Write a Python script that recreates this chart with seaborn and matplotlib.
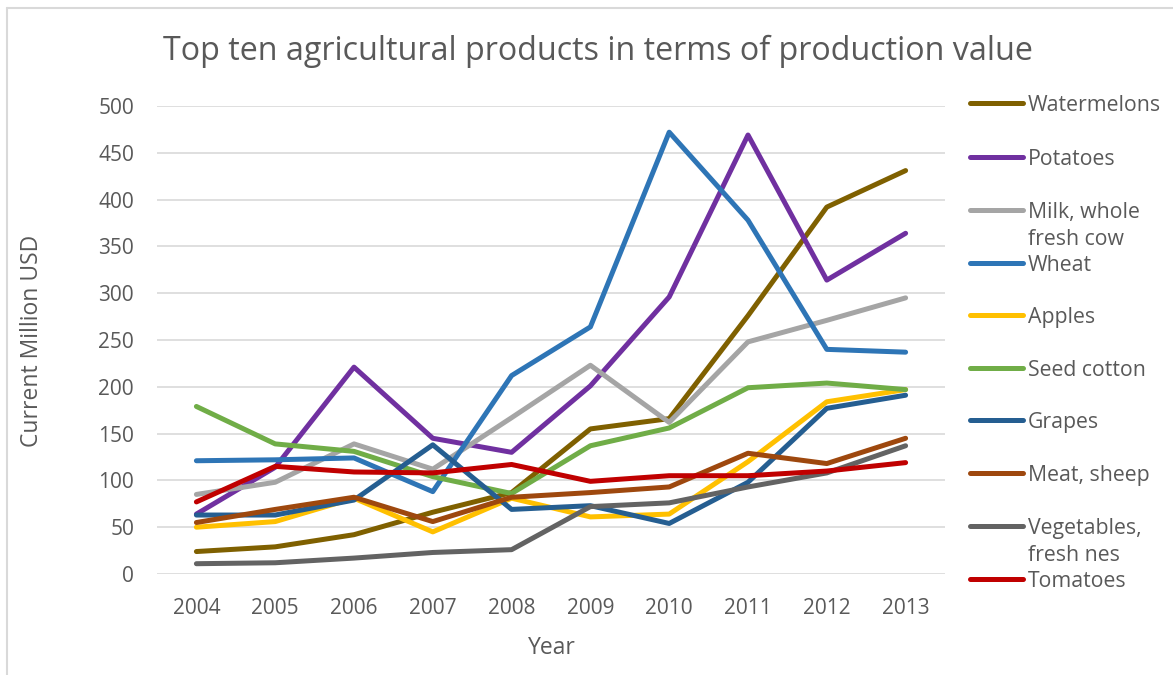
import matplotlib
matplotlib.use("Agg")
import matplotlib.pyplot as plt
from matplotlib.lines import Line2D
import seaborn as sns
import pandas as pd

years = [2004, 2005, 2006, 2007, 2008, 2009, 2010, 2011, 2012, 2013]
products = ["Watermelons", "Potatoes", "Milk, whole fresh cow", "Wheat", "Apples",
            "Seed cotton", "Grapes", "Meat, sheep", "Vegetables, fresh nes", "Tomatoes"]
legend_labels = ["Watermelons", "Potatoes", "Milk, whole\nfresh cow", "Wheat", "Apples",
                 "Seed cotton", "Grapes", "Meat, sheep", "Vegetables,\nfresh nes", "Tomatoes"]

watermelons = [24, 29, 42, 66, 87, 155, 166, 276, 392, 431]
potatoes = [64, 114, 221, 145, 130, 201, 296, 469, 314, 364]
milk = [85, 98, 139, 112, 167, 223, 162, 248, 271, 295]
wheat = [121, 122, 124, 88, 212, 264, 472, 378, 240, 237]
apples = [50, 56, 81, 45, 81, 61, 64, 120, 184, 197]
seed_cotton = [179, 139, 131, 104, 86, 137, 156, 199, 204, 197]
grapes = [63, 63, 79, 138, 69, 73, 54, 98, 177, 191]
meat_sheep = [55, 69, 82, 56, 82, 87, 93, 129, 118, 145]
vegetables = [11, 12, 17, 23, 26, 72, 76, 93, 108, 137]
tomatoes = [77, 115, 109, 108, 117, 99, 105, 105, 110, 119]

series = [watermelons, potatoes, milk, wheat, apples, seed_cotton, grapes,
          meat_sheep, vegetables, tomatoes]
colors = ["#7F6000", "#7030A0", "#A5A5A5", "#2E75B6", "#FFC000",
          "#70AD47", "#255E91", "#9E480E", "#636363", "#C00000"]

rows = []
for name, vals in zip(products, series):
    for y, v in zip(years, vals):
        rows.append({"Year": y, "Value": v, "Product": name})
df = pd.DataFrame(rows)

sns.set_theme(style="white")
plt.rcParams["font.family"] = ["Open Sans", "DejaVu Sans"]

W, H = 1173, 675
fig = plt.figure(figsize=(W / 100, H / 100), dpi=100)
ax = fig.add_axes([157 / W, 1 - 574 / H, (945 - 157) / W, (574 - 106) / H])

sns.lineplot(data=df, x="Year", y="Value", hue="Product", hue_order=products,
             palette=colors, linewidth=3.6, ax=ax, legend=False)
for ln in ax.get_lines():
    ln.set_solid_capstyle("round")

ax.set_xlim(years[0] - 0.5, years[-1] + 0.5)
ax.set_ylim(0, 500)
ax.set_yticks(range(0, 501, 50))
ax.set_xticks(years)
ax.yaxis.grid(True, color="#D9D9D9", linewidth=1.2)
ax.set_axisbelow(True)
for s in ax.spines.values():
    s.set_visible(False)
ax.tick_params(axis="both", length=0, labelsize=15, colors="#595959")
ax.tick_params(axis="y", pad=16.5)
ax.tick_params(axis="x", pad=17)
ax.set_xlabel("Year", fontsize=16.5, color="#595959")
ax.set_ylabel("Current Million USD", fontsize=16.5, color="#595959")
ax.xaxis.label.set_va("center")
ax.yaxis.label.set_va("center")
ax.xaxis.set_label_coords((552 - 157) / 788, (574 - 648) / 468)
ax.yaxis.set_label_coords((32 - 157) / 788, (574 - 341) / 468)

fig.text(598 / W, 1 - 51 / H, "Top ten agricultural products in terms of production value",
         ha="center", va="center", fontsize=23.2, color="#595959")

# legend (drawn manually to mimic layout)
ys = [103, 157, 210, 263, 315, 368, 420, 473, 526, 579]
for lab, col, yy in zip(legend_labels, colors, ys):
    fig.add_artist(Line2D([970 / W, 1023 / W], [1 - yy / H, 1 - yy / H], color=col,
                          linewidth=3.6, solid_capstyle="round"))
    for k, part in enumerate(lab.split("\n")):
        fig.text(1028 / W, 1 - (yy + 8 + 27 * k) / H, part, ha="left", va="baseline",
                 fontsize=15.3, color="#595959")

# chart border
fig.add_artist(Line2D([7 / W, 7 / W], [0, 1 - 8 / H], color="#D9D9D9", linewidth=1.5))
fig.add_artist(Line2D([7 / W, 1], [1 - 8 / H, 1 - 8 / H], color="#D9D9D9", linewidth=1.5))

fig.savefig("out.png", dpi=100)
